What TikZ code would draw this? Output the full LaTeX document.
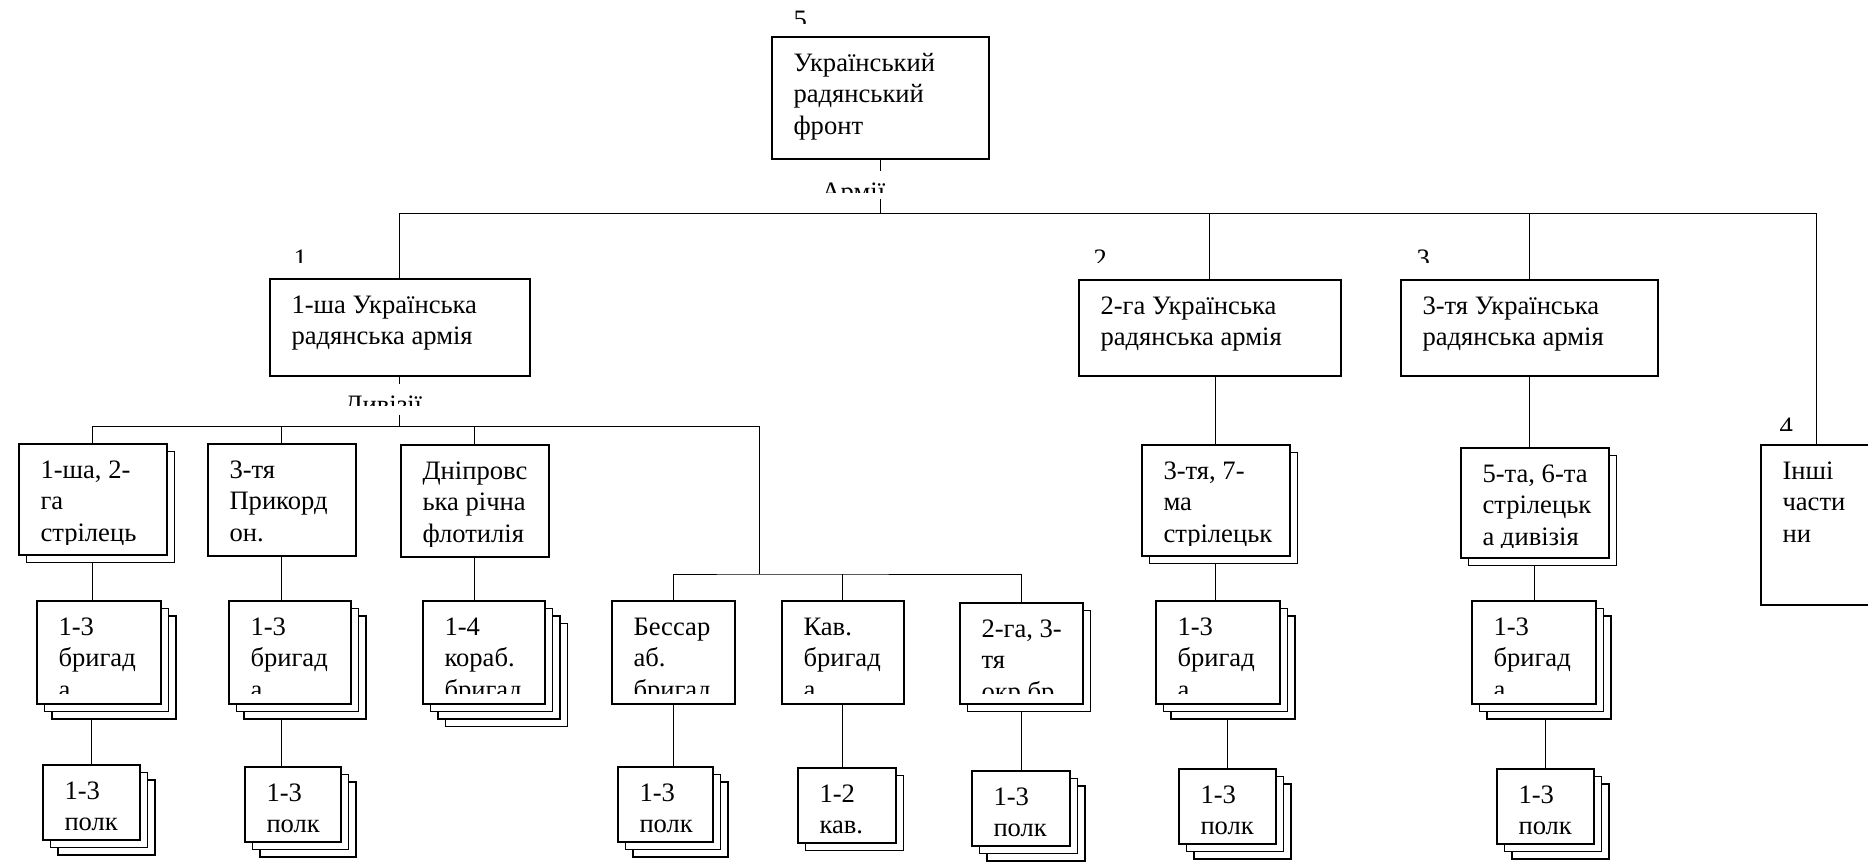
\documentclass[tikz,border=0pt]{standalone}
\usepackage{fontspec}
\setmainfont{Liberation Serif}
\usetikzlibrary{backgrounds}
\newcommand\unitfont{\fontsize{13.3}{15.8}\selectfont}

\begin{document}
\begin{tikzpicture}[x=0.5pt,y=-0.5pt,line width=0.75pt,line join=miter,
  cut/.store in=\cutmargin,cut=5pt,
  unit/.style={draw,fill=white,rectangle,inner sep=0pt,anchor=north west},
  inner/.style={inner sep=0pt,minimum width=0pt,minimum height=0pt,font=\unitfont},
  txt/.style={path picture={
    \clip (path picture bounding box.north west) rectangle ([yshift=\cutmargin]path picture bounding box.south east);
    \node[inner,anchor=north west,align=left] at ([xshift=10.5pt,yshift=-6.8pt]path picture bounding box.north west) {\rule{0pt}{10pt}#1};}},
  note/.style={fill=white,inner sep=0pt,anchor=north west,path picture={
    \clip (path picture bounding box.north west) rectangle ([yshift=-11pt]path picture bounding box.north east);
    \node[inner,anchor=base west] at ([xshift=2.5pt,yshift=-15pt]path picture bounding box.north west) {#1};}},
  tag/.style={fill=white,inner sep=0pt,anchor=north west,minimum width=10pt,minimum height=15pt,path picture={
    \clip (path picture bounding box.north west) rectangle ([yshift=-12.5pt]path picture bounding box.north east);
    \node[inner,anchor=base west] at ([yshift=-15pt]path picture bounding box.north west) {#1};}},
  stack2/.style={preaction={draw,fill=white,transform canvas={shift={(3.75pt,-3.75pt)}}}},
  stack3/.style={preaction={draw,fill=white,transform canvas={shift={(7.5pt,-7.5pt)}}},stack2},
  stack4/.style={preaction={draw,fill=white,transform canvas={shift={(11.25pt,-11.25pt)}}},stack3}]
\useasboundingbox (0,0) rectangle (1868,867);
\clip (0,0) rectangle (1868,867);

\node[unit,txt={Український\\радянський\\фронт},minimum width=108.5pt,minimum height=61pt] (front) at (771,36) {};
\node[tag={5}] (n5) at (792,-2) {};

\node[unit,txt={1-ша Українська\\радянська армія},minimum width=130pt,minimum height=48.5pt] (arm1) at (269,278) {};
\node[unit,txt={2-га Українська\\радянська армія},minimum width=131pt,minimum height=48pt] (arm2) at (1078,279) {};
\node[unit,txt={3-тя Українська\\радянська армія},minimum width=128.5pt,minimum height=48pt] (arm3) at (1400,279) {};
\node[unit,txt={Інші\\части\\ни},minimum width=56pt,minimum height=80pt] (other) at (1760,444) {};
\node[tag={1}] (n1) at (292,237) {};
\node[tag={2}] (n2) at (1092,237) {};
\node[tag={3}] (n3) at (1415,237) {};
\node[tag={4}] (n4) at (1778,405) {};

\node[unit,stack2,txt={1-ша, 2-\\га\\стрілець},minimum width=74pt,minimum height=55.5pt] (divA) at (18,443) {};
\node[unit,txt={3-тя\\Прикорд\\он.},minimum width=74pt,minimum height=56pt] (divB) at (207,443) {};
\node[unit,txt={Дніпровс\\ька річна\\флотилія},minimum width=74pt,minimum height=56pt] (divC) at (400,444) {};
\node[unit,txt={Бессар\\аб.\\бригад},minimum width=61.5pt,minimum height=51.5pt] (boxD) at (611,600) {};
\node[unit,txt={Кав.\\бригад\\а},minimum width=61pt,minimum height=51.5pt] (boxE) at (781,600) {};
\node[unit,stack2,txt={2-га, 3-\\тя\\окр.бр.},minimum width=61.5pt,minimum height=50.5pt] (boxF) at (959,602) {};

\node[unit,stack3,txt={1-3\\бригад\\а},minimum width=62pt,minimum height=51.5pt] (brigA) at (36,600) {};
\node[unit,stack3,txt={1-3\\бригад\\а},minimum width=61pt,minimum height=51.5pt] (brigB) at (228,600) {};
\node[unit,stack4,txt={1-4\\кораб.\\бригад},minimum width=61pt,minimum height=51.5pt] (brigC) at (422,600) {};

\node[unit,stack3,cut=3pt,txt={1-3\\полк},minimum width=48.5pt,minimum height=37.5pt] (polkA) at (42,764) {};
\node[unit,stack3,cut=3pt,txt={1-3\\полк},minimum width=48pt,minimum height=37.5pt] (polkB) at (244,766) {};
\node[unit,stack3,cut=3pt,txt={1-3\\полк},minimum width=47.5pt,minimum height=37.5pt] (polkD) at (617,766) {};
\node[unit,stack2,cut=3pt,txt={1-2\\кав.},minimum width=49pt,minimum height=37.5pt] (polkE) at (797,767) {};
\node[unit,stack3,cut=3pt,txt={1-3\\полк},minimum width=49pt,minimum height=37.5pt] (polkF) at (971,770) {};

\node[unit,stack2,txt={3-тя, 7-\\ма\\стрілецьк},minimum width=74pt,minimum height=55.5pt] (div2) at (1141,444) {};
\node[unit,stack3,txt={1-3\\бригад\\а},minimum width=62pt,minimum height=51.5pt] (brig2) at (1155,600) {};
\node[unit,stack3,cut=3pt,txt={1-3\\полк},minimum width=48.5pt,minimum height=37.5pt] (polk2) at (1178,768) {};

\node[unit,stack2,txt={5-та, 6-та\\стрілецьк\\а дивізія},minimum width=74pt,minimum height=55pt] (div3) at (1460,447) {};
\node[unit,stack3,txt={1-3\\бригад\\а},minimum width=62pt,minimum height=51.5pt] (brig3) at (1471,600) {};
\node[unit,stack3,cut=3pt,txt={1-3\\полк},minimum width=48.5pt,minimum height=37.5pt] (polk3) at (1496,768) {};

\node[note={Армії},minimum width=35pt,minimum height=14pt] (armlbl) at (815,170) {};
\node[note={Дивізії},minimum width=43pt,minimum height=15.5pt] (divlbl) at (338,383) {};

\coordinate (topbar) at ([yshift=-27pt]front.south);
\coordinate (divbar) at ([yshift=-25pt]arm1.south);
\coordinate (subjoint) at (759,574);

\begin{scope}[on background layer]
\draw (front.south) -- (topbar);
\draw (arm1.north) |- (topbar) -| (other.north);
\draw (arm2.north) -- (arm2.north |- topbar);
\draw (arm3.north) -- (arm3.north |- topbar);
\draw (arm1.south) -- (divbar);
\draw (divA.north) |- (divbar) -| (subjoint);
\draw (divB.north) -- (divB.north |- divbar);
\draw (divC.north) -- (divC.north |- divbar);
\draw (boxD.north) |- (subjoint) -| (boxF.north);
\draw (boxE.north) -- (boxE.north |- subjoint);
\draw (divA.south) -- (divA.south |- brigA.north);
\draw (divB.south) -- (divB.south |- brigB.north);
\draw (divC.south) -- (divC.south |- brigC.north);
\draw (polkA.north) -- (polkA.north |- brigA.south);
\draw ([xshift=-4pt]brigB.south) -- ([xshift=-4pt]brigB.south |- polkB.north);
\draw (boxD.south) -- (boxD.south |- polkD.north);
\draw (boxE.south) -- (boxE.south |- polkE.north);
\draw (boxF.south) -- (boxF.south |- polkF.north);
\draw (div2.north) -- (div2.north |- arm2.south);
\draw (div2.south) -- (div2.south |- brig2.north);
\draw (polk2.north) -- (polk2.north |- brig2.south);
\draw (arm3.south) -- (arm3.south |- div3.north);
\draw (div3.south) -- (div3.south |- brig3.north);
\draw (polk3.north) -- (polk3.north |- brig3.south);
\end{scope}
\end{tikzpicture}
\end{document}
